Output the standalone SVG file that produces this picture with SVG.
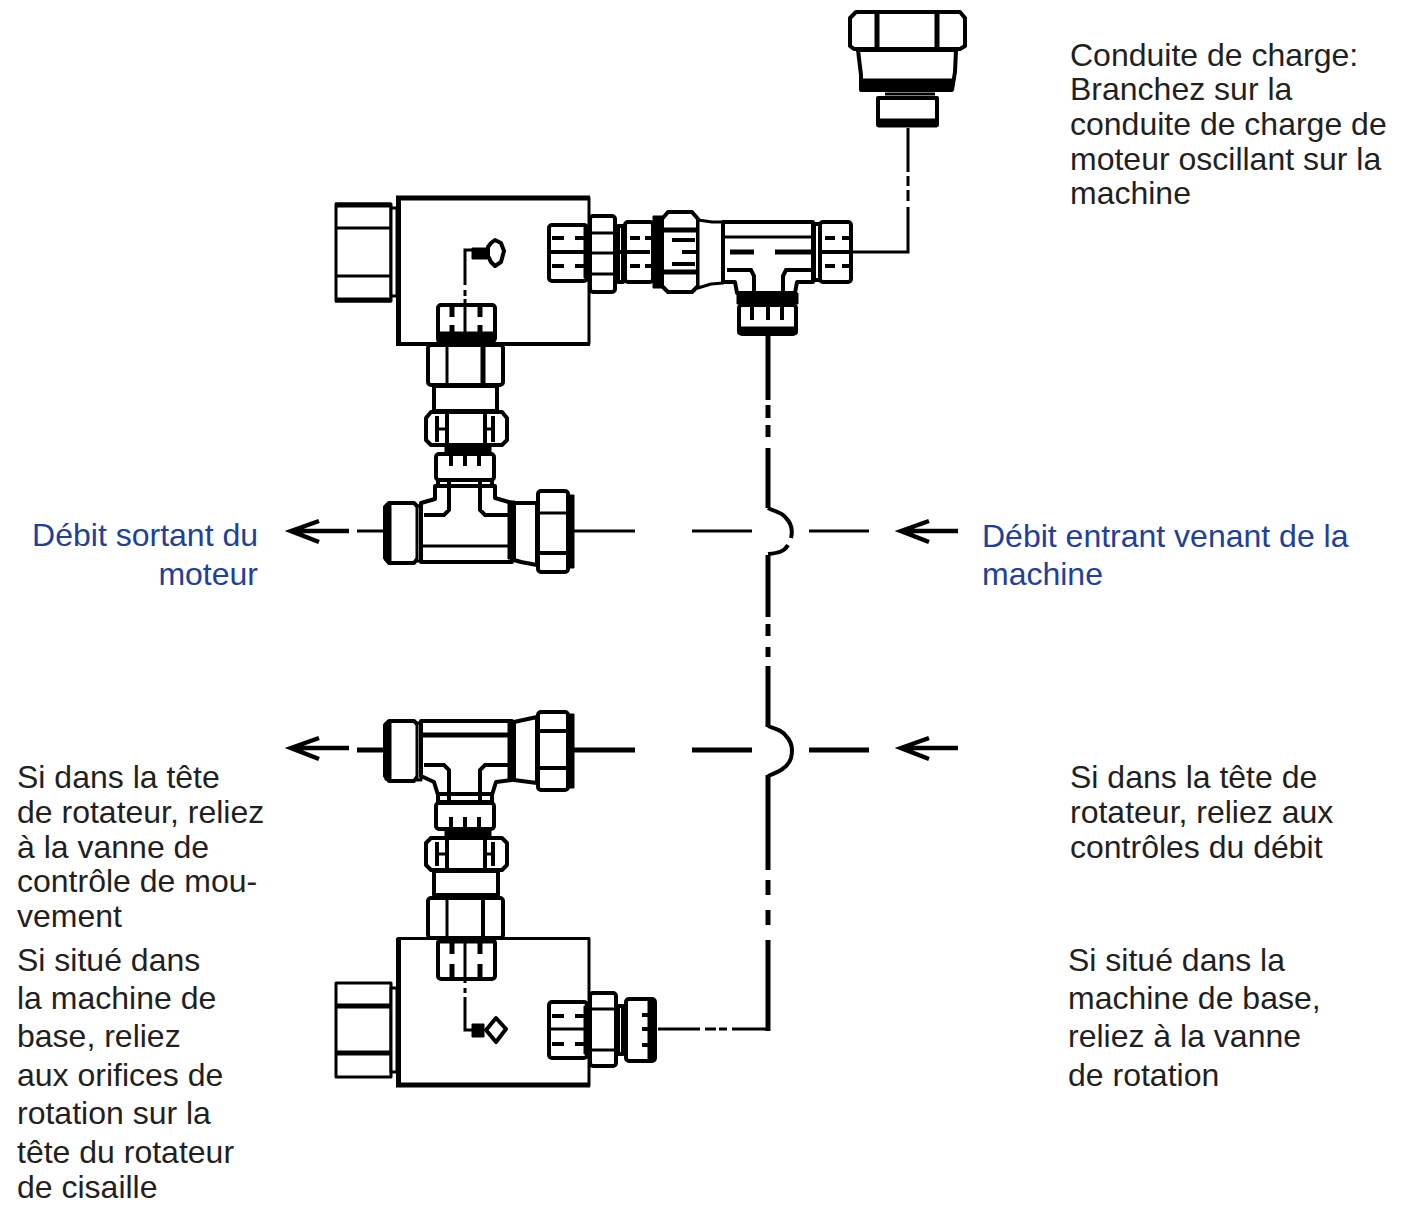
<svg xmlns="http://www.w3.org/2000/svg" width="1405" height="1205" viewBox="0 0 1405 1205">
<style>
text{font-family:"Liberation Sans",Arial,sans-serif;font-size:32px;fill:#231f20}
.b{fill:#20409a}
.e{text-anchor:end}
.o{fill:#fff;stroke:#000;stroke-width:3;stroke-linejoin:round}
.f{fill:#fff;stroke:#000;stroke-width:4;stroke-linejoin:round}
.k{fill:#000;stroke:#000;stroke-width:1;stroke-linejoin:round}
.l{fill:none;stroke:#000;stroke-width:3}
.m{fill:none;stroke:#000;stroke-width:4}
.h{fill:none;stroke:#000;stroke-width:5}
.a{fill:none;stroke:#000;stroke-width:4.5}
</style>
<rect width="1405" height="1205" fill="#fff"/>
<g id="connectors">
<path class="l" d="M908 128V172M908 176V186M908 190V201M908 207V252H852"/>
<path class="h" d="M768 335V400M768 405V418M768 425V437M768 448V508M768 555V617M768 624V636M768 647V657M768 666V727M768 775V870M768 880V895M768 910V925M768 940V1031"/>
<path class="m" d="M768 508C775 512 782 512 786 518C792 524 793 530 791 538M788 545C784 552 778 553 768 554"/>
<path class="m" d="M768 726C776 729 782 730 786 736C792 742 793 750 791 758C788 768 778 772 768 776"/>
<path class="l" d="M357 531H383M574 531H635M692 531H752M809 531H869"/>
<path class="h" d="M357 750H383M574 750H635M692 750H752M809 750H869"/>
<path class="l" d="M658 1029H700M705 1029H716M719 1029H727M732 1029H768"/>
<path class="m" d="M504 251H548"/>
<path class="l" d="M507 1029H548"/>
<path class="a" d="M349 531H292M319 521L291 531L319 542"/>
<path class="a" d="M349 748H292M319 738L291 748L319 759"/>
<path class="a" d="M958 531H902M929 521L901 531L929 542"/>
<path class="a" d="M958 748H902M929 738L901 748L929 759"/>
</g>
<g id="top-connector">
<path class="f" stroke-width="5" d="M856 12H960L965 18V46L960 49H854L850 46V18Z"/>
<path class="h" d="M877 13V48M937 13V48M850 13"/>
<path class="f" d="M858 50L861 75V90H952L955 72L956 50Z"/>
<rect class="k" x="861" y="79" width="91" height="11"/>
<path class="l" d="M885 94H935"/>
<path class="f" d="M878 98H937V125H878Z"/>
<rect class="k" x="878" y="119" width="59" height="8"/>
</g>
<g id="block-top">
<rect x="336" y="204" width="55" height="97" class="o"/>
<path class="h" d="M335 205H391M335 300H391"/>
<path class="l" d="M336 228H390M336 276H390"/>
<rect x="391" y="208" width="6" height="88" class="o" stroke-width="2"/>
<rect x="398" y="197.500" width="191" height="146" class="o"/>
<path class="h" d="M398.500 196V345"/>
<path class="h" d="M396 198H590"/>
<path class="m" d="M396 344H590"/>
<path class="l" d="M465 285V250H472M465 290V296M465 299V305"/>
<rect class="k" x="472" y="248" width="15" height="11"/>
<path class="f" d="M491 243L495 240L501 243L504 251L501 262L495 266L491 262L488 256V247Z"/>
<rect x="438" y="305" width="57" height="36" rx="3" class="f"/>
<rect class="k" x="437" y="332" width="58" height="11"/>
<path class="l" d="M465 305V334"/>
<path class="h" d="M452 306V317M452 325V334M480 306V317M480 325V334"/>
</g>
<g id="top-fittings">
<rect x="549" y="225" width="38" height="56" rx="3" class="f"/>
<path class="m" d="M548 252H588"/>
<path class="m" d="M552 238H564M575 238H586M552 266H564M575 266H586"/>
<rect x="590" y="216" width="25" height="76" rx="3" class="f"/>
<path class="l" d="M590 233H615M590 253H615M590 274H615"/>
<rect x="584" y="226" width="7" height="52" class="k"/>
<rect x="618" y="226" width="5" height="56" class="f" stroke-width="2"/>
<rect x="625" y="222" width="28" height="60" rx="3" class="f"/>
<path class="m" d="M618 252H650"/>
<path class="m" d="M630 238H640M645 238H652M630 266H640M645 266H652"/>
<rect x="653" y="216" width="10" height="72" class="k"/>
<path class="f" d="M668 212H692L698 219V286L692 292H668L662 286V219Z"/>
<path class="h" d="M664 230H697M664 272H697"/>
<path class="m" d="M672 240H695M682 252H708M672 264H695"/>
<path class="o" d="M698 220L712 222L723 222V283L711 284L698 288Z"/>
<path class="f" d="M723 222H813V282H797L795 293H737L735 282H723Z"/>
<path class="l" d="M725 237H813"/>
<path class="h" d="M730 252H754M775 252H812"/>
<path class="m" d="M727 270H751L754 276V294M783 294V276L786 270H812"/>
<rect x="814" y="224" width="6" height="56" class="f" stroke-width="2"/>
<rect x="820" y="222" width="31" height="60" rx="3" class="f"/>
<path class="m" d="M821 252H851"/>
<path class="m" d="M825 238H835M842 238H850M825 266H835M842 266H850"/>
<rect x="737" y="293" width="61" height="11" class="k"/>
<rect x="739" y="305" width="57" height="29" rx="3" class="f"/>
<path class="m" d="M752 305V320M768 305V320M782 305V320"/>
<rect x="738" y="327" width="59" height="7" class="k"/>
</g>
<g id="stack-top">
<rect x="428" y="345" width="75" height="40" rx="3" class="f"/>
<path class="l" d="M447 345V385"/>
<path class="h" d="M483 345V385"/>
<rect x="434" y="386" width="63" height="25" class="f"/>
<path class="f" d="M431 412H502L507 418V440L502 445H431L426 440V418Z"/>
<path class="m" d="M447 412V445M485 412V445M437 416V442M493 416V442"/>
<path class="l" d="M437 429H447M485 429H493"/>
<rect x="445" y="445" width="46" height="8" class="k"/>
<rect x="436" y="454" width="58" height="26" rx="3" class="f"/>
<path class="m" d="M451 454V466M465 454V466M479 454V466"/>
<rect x="438" y="480" width="54" height="7" class="f" stroke-width="3"/>
<path class="m" d="M449 480V487M480 480V487"/>
</g>
<g id="tee-upper">
<path class="f" d="M389 503H414L418 507V558L414 563H389L385 558V507Z"/>
<rect x="385" y="505" width="6" height="56" class="k"/>
<rect x="417" y="506" width="4" height="55" class="o" stroke-width="2"/>
<path class="f" d="M435 486H495V498L512 503V562H421V503L435 499Z"/>
<path class="m" d="M424 515H444L449 510V486M480 486V510L485 515H510"/>
<path class="l" d="M422 546H510"/>
<rect x="508" y="501" width="7" height="58" class="k"/>
<path class="f" d="M514 503H537V565L521 562L514 560Z"/>
<rect x="538" y="491" width="30" height="81" rx="3" class="f"/>
<path class="l" d="M538 513H568"/>
<path class="m" d="M538 553H568"/>
<rect x="568" y="495" width="6" height="73" class="k"/>
</g>
<g id="tee-lower">
<path class="f" d="M389 721H414L418 725V776L414 781H389L385 776V725Z"/>
<rect x="385" y="723" width="6" height="57" class="k"/>
<rect x="417" y="723" width="4" height="57" class="o" stroke-width="2"/>
<path class="f" d="M421 721H512V780L496 782L492 795H438L434 782L421 776Z"/>
<path class="h" d="M422 735H510"/>
<path class="m" d="M424 765H444L449 770V794M480 794V770L485 765H510"/>
<rect x="508" y="722" width="7" height="58" class="k"/>
<path class="f" d="M514 722L537 717V783L514 780Z"/>
<rect x="538" y="712" width="30" height="78" rx="3" class="f"/>
<path class="m" d="M538 731H568M538 768H568"/>
<rect x="568" y="714" width="6" height="74" class="k"/>
</g>
<g id="stack-bottom">
<rect x="438" y="794" width="54" height="8" class="f" stroke-width="3"/>
<path class="m" d="M449 794V802M480 794V802"/>
<rect x="436" y="803" width="58" height="26" rx="3" class="f"/>
<path class="m" d="M451 817V829M465 817V829M479 817V829"/>
<rect x="445" y="829" width="46" height="8" class="k"/>
<path class="f" d="M431 838H502L507 843V865L502 870H431L426 865V843Z"/>
<path class="m" d="M447 838V870M485 838V870M437 842V866M493 842V866"/>
<path class="l" d="M437 854H447M485 854H493"/>
<rect x="434" y="871" width="64" height="24" class="f"/>
<rect x="428" y="898" width="75" height="40" rx="3" class="f"/>
<path class="l" d="M447 898V938"/>
<path class="m" d="M483 898V938"/>
</g>
<g id="block-bottom">
<rect x="336" y="983" width="55" height="94" class="o"/>
<path class="h" d="M335 1006H391M335 1053H391"/>
<rect x="391" y="988" width="6" height="84" class="o" stroke-width="2"/>
<rect x="398" y="938.500" width="191" height="147" class="o"/>
<path class="h" d="M398.500 938V1087"/>
<path class="h" d="M396 1085H590"/>
<rect x="438" y="940" width="57" height="39" rx="3" class="f"/>
<path class="l" d="M465 940V983M465 988V993M465 997V1030H472"/>
<path class="h" d="M452 938V954M452 964V977M480 938V954M480 964V977"/>
<path class="l" d="M440 942H493"/>
<rect x="472" y="1024" width="12" height="13" class="k"/>
<path class="f" d="M496 1018L506 1029L496 1042L486 1030Z"/>
<rect x="549" y="1002" width="38" height="56" rx="3" class="f"/>
<path class="l" d="M549 1029H588"/>
<path class="m" d="M552 1016H564M575 1016H586M552 1044H564M575 1044H586"/>
<rect x="584" y="1006" width="7" height="48" class="k"/>
<rect x="590" y="993" width="26" height="73" rx="3" class="f"/>
<path class="l" d="M590 1009H616M590 1050H616"/>
<rect x="618" y="1006" width="5" height="48" class="f" stroke-width="2"/>
<rect x="626" y="999" width="29" height="62" rx="3" class="f"/>
<rect x="648" y="1001" width="7" height="59" class="k"/>
<path class="m" d="M642 1015H650M642 1029H650M642 1045H650"/>
</g>
<g id="labels">
<text x="1070" y="66">Conduite de charge:</text>
<text x="1070" y="100">Branchez sur la</text>
<text x="1070" y="135">conduite de charge de</text>
<text x="1070" y="170">moteur oscillant sur la</text>
<text x="1070" y="204">machine</text>
<text class="b e" x="258" y="546">Débit sortant du</text>
<text class="b e" x="258" y="585">moteur</text>
<text class="b" x="982" y="547">Débit entrant venant de la</text>
<text class="b" x="982" y="585">machine</text>
<text x="17" y="788">Si dans la tête</text>
<text x="17" y="823">de rotateur, reliez</text>
<text x="17" y="858">à la vanne de</text>
<text x="17" y="892">contrôle de mou-</text>
<text x="17" y="927">vement</text>
<text x="17" y="971">Si situé dans</text>
<text x="17" y="1009">la machine de</text>
<text x="17" y="1047">base, reliez</text>
<text x="17" y="1086">aux orifices de</text>
<text x="17" y="1124">rotation sur la</text>
<text x="17" y="1163">tête du rotateur</text>
<text x="17" y="1198">de cisaille</text>
<text x="1070" y="788">Si dans la tête de</text>
<text x="1070" y="823">rotateur, reliez aux</text>
<text x="1070" y="858">contrôles du débit</text>
<text x="1068" y="971">Si situé dans la</text>
<text x="1068" y="1009">machine de base,</text>
<text x="1068" y="1047">reliez à la vanne</text>
<text x="1068" y="1086">de rotation</text>
</g>
</svg>
